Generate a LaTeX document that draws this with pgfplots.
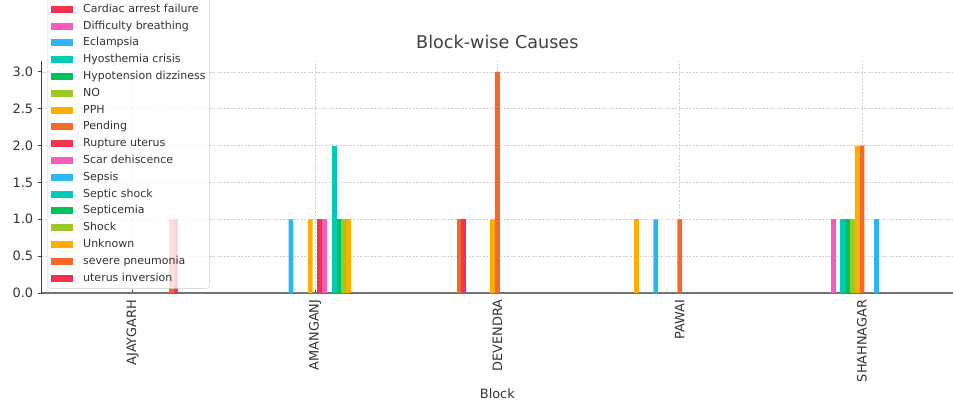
\documentclass[border=0pt]{standalone}
\usepackage{fontspec}
\setmainfont{DejaVu Sans}
\usepackage{pgfplots}
\pgfplotsset{compat=1.18}

% eight-colour cycle used by the causes
\definecolor{cAmber}{HTML}{FFAE00}
\definecolor{cOrange}{HTML}{F3692B}
\definecolor{cRed}{HTML}{F2334F}
\definecolor{cPink}{HTML}{F85BBB}
\definecolor{cBlue}{HTML}{2DB5F3}
\definecolor{cTeal}{HTML}{00C9B8}
\definecolor{cGreen}{HTML}{00C25A}
\definecolor{cLime}{HTML}{9CC92A}
\definecolor{txt}{HTML}{333333}

\pgfplotsset{
  cause/.style={ybar, bar width=0.026316, bar shift=#1, draw=none},
}

\begin{document}
\begin{tikzpicture}
\begin{axis}[
  at={(41.6pt,-293pt)}, anchor=south west,
  scale only axis, width=911.5pt, height=232.2pt,
  xmin=-0.5, xmax=4.5, ymin=0, ymax=3.15,
  axis lines*=left,
  x axis line style={draw=black!55, line width=1.6pt},
  y axis line style={draw=black!75, line width=0.9pt},
  xtick={0,1,2,3,4},
  xticklabels={AJAYGARH,AMANGANJ,DEVENDRA,PAWAI,SHAHNAGAR},
  ytick={0,0.5,1,1.5,2,2.5,3},
  /pgf/number format/.cd, fixed, fixed zerofill, precision=1, assume math mode=true,
  /pgfplots/.cd,
  xtick align=inside, ytick align=outside,
  major tick length=3.5pt,
  tick style={draw=black!75, line width=0.8pt},
  grid=major,
  grid style={dashed, dash pattern=on 2pt off 1.5pt, draw=black!18, line width=0.6pt},
  ticklabel style={font=\fontsize{12.9}{15}\selectfont, text=txt},
  xticklabel style={rotate=90, anchor=east, inner xsep=6.5pt, inner ysep=0pt},
  yticklabel style={anchor=east, inner xsep=0pt, xshift=-4.7pt},
  title={Block-wise Causes},
  title style={at={(0.5,1)}, anchor=base, yshift=5.8pt, inner sep=0pt,
    font=\fontsize{17.6}{20}\selectfont, text=black!75},
  xlabel={Block},
  xlabel style={at={(0.5,0)}, anchor=base, yshift=-105pt, inner sep=0pt,
    font=\fontsize{12.9}{15}\selectfont, text=txt},
  legend cell align=left,
  legend image code/.code={
    \fill[#1, sharp corners, fill opacity=1] (0pt,-3.5pt) rectangle (22pt,3.5pt);
    \path (32pt,0pt);
  },
  legend style={at={(0,0)}, anchor=south west, xshift=5.4pt, yshift=4.5pt,
    draw=black!20, fill=white, fill opacity=0.8, text opacity=1,
    rounded corners=3pt, inner xsep=4pt, inner ysep=1.8pt,
    row sep=0pt, column sep=0pt,
    font=\fontsize{11}{13}\selectfont, text=txt,
    nodes={inner sep=0pt, text height=8.2pt, text depth=2.4pt, minimum height=16.8pt}},
]
% x positions: 0 AJAYGARH, 1 AMANGANJ, 2 DEVENDRA, 3 PAWAI, 4 SHAHNAGAR
\addplot[cause=-0.236842, fill=cAmber] coordinates {(3,1)};
\addlegendentry{APH}
\addplot[cause=-0.210526, fill=cOrange] coordinates {(2,1)};
\addlegendentry{Anemia}
\addplot[cause=-0.184211, fill=cRed] coordinates {(2,1)};
\addlegendentry{Cardiac arrest failure}
\addplot[cause=-0.157895, fill=cPink] coordinates {(4,1)};
\addlegendentry{Difficulty breathing}
\addplot[cause=-0.131579, fill=cBlue] coordinates {(1,1) (3,1)};
\addlegendentry{Eclampsia}
\addplot[cause=-0.105263, fill=cTeal] coordinates {(4,1)};
\addlegendentry{Hyosthemia crisis}
\addplot[cause=-0.078947, fill=cGreen] coordinates {(4,1)};
\addlegendentry{Hypotension dizziness}
\addplot[cause=-0.052632, fill=cLime] coordinates {(4,1)};
\addlegendentry{NO}
\addplot[cause=-0.026316, fill=cAmber] coordinates {(1,1) (2,1) (4,2)};
\addlegendentry{PPH}
\addplot[cause=0, fill=cOrange] coordinates {(2,3) (3,1) (4,2)};
\addlegendentry{Pending}
\addplot[cause=0.026316, fill=cRed] coordinates {(1,1)};
\addlegendentry{Rupture uterus}
\addplot[cause=0.052632, fill=cPink] coordinates {(1,1)};
\addlegendentry{Scar dehiscence}
\addplot[cause=0.078947, fill=cBlue] coordinates {(4,1)};
\addlegendentry{Sepsis}
\addplot[cause=0.105263, fill=cTeal] coordinates {(1,2)};
\addlegendentry{Septic shock}
\addplot[cause=0.131579, fill=cGreen] coordinates {(1,1)};
\addlegendentry{Septicemia}
\addplot[cause=0.157895, fill=cLime] coordinates {(1,1)};
\addlegendentry{Shock}
\addplot[cause=0.184211, fill=cAmber] coordinates {(1,1)};
\addlegendentry{Unknown}
\addplot[cause=0.210526, fill=cOrange] coordinates {(0,1)};
\addlegendentry{severe pneumonia}
\addplot[cause=0.236842, fill=cRed] coordinates {(0,1)};
\addlegendentry{uterus inversion}
\end{axis}
\pgfresetboundingbox
\path[use as bounding box] (0pt,0pt) rectangle (953pt,-404pt);
\end{tikzpicture}
\end{document}
